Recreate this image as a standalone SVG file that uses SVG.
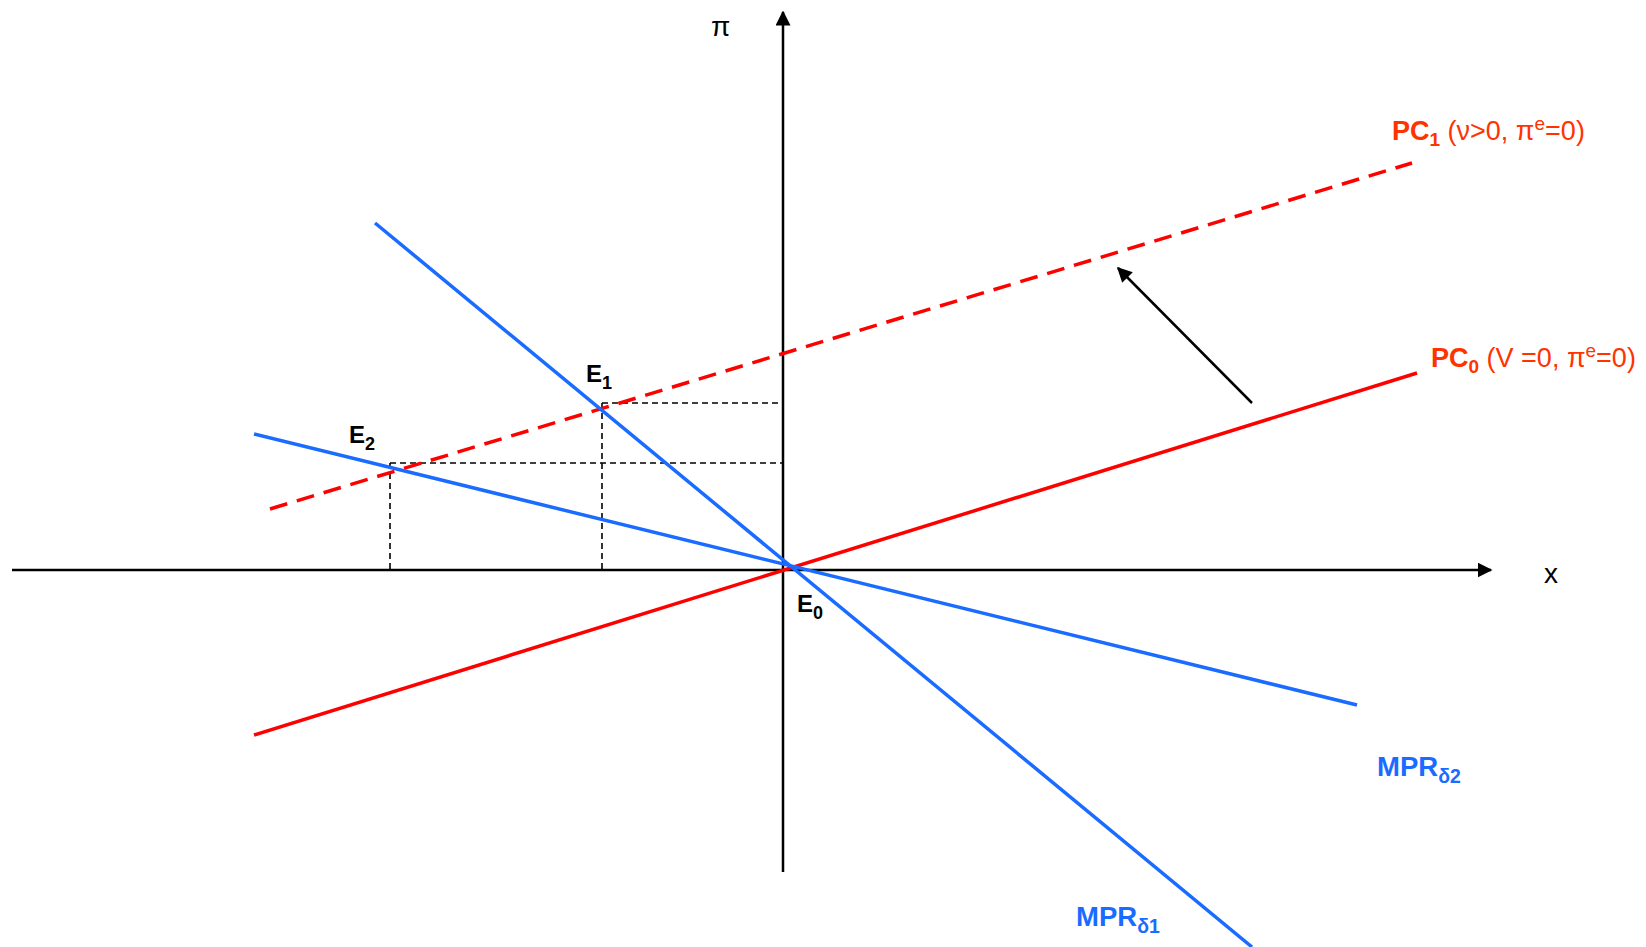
<svg xmlns="http://www.w3.org/2000/svg" width="1646" height="947" viewBox="0 0 1646 947">
<style>
.lbl{font-family:"Liberation Sans",Arial,sans-serif;}
.pc{fill:#FF3300;font-size:27px;}
.mpr{fill:#1A6BFF;font-size:27.5px;font-weight:bold;}
.e{fill:#000;font-size:24px;font-weight:bold;}
.ax{fill:#000;font-size:28px;}
.red{stroke:#FF0000;stroke-width:3.5;fill:none;}
.blue{stroke:#1A6BFF;stroke-width:3.5;fill:none;}
.guide{stroke:#000;stroke-width:1.6;stroke-dasharray:6 4;fill:none;}
.axis{stroke:#000;stroke-width:2.5;fill:none;}
</style>
<defs>
<marker id="ah" viewBox="0 0 10 10" refX="9" refY="5" markerWidth="6" markerHeight="6" markerUnits="strokeWidth" orient="auto">
<path d="M0,0 L10,5 L0,10 Z" fill="#000"/>
</marker>
</defs>
<rect width="1646" height="947" fill="#fff"/>
<g id="connectors">
<line id="axis-x" class="axis" x1="12" y1="570" x2="1491" y2="570" marker-end="url(#ah)"/>
<line id="axis-y" class="axis" x1="783" y1="872" x2="783" y2="12" marker-end="url(#ah)"/>
<line id="guide-e1-h" class="guide" x1="602" y1="403" x2="782" y2="403"/>
<line id="guide-e1-v" class="guide" x1="602" y1="403" x2="602" y2="570"/>
<line id="guide-e2-h" class="guide" x1="390" y1="463" x2="782" y2="463"/>
<line id="guide-e2-v" class="guide" x1="390" y1="463" x2="390" y2="570"/>
<line id="pc0" class="red" x1="254" y1="735" x2="1417" y2="373"/>
<line id="pc1" class="red" x1="270" y1="509" x2="1412" y2="163" stroke-width="4.5" stroke-dasharray="18 10"/>
<line id="mpr1" class="blue" x1="375" y1="223" x2="1252" y2="947"/>
<line id="mpr2" class="blue" x1="254" y1="434" x2="1357" y2="705"/>
<line id="shift" class="axis" x1="1252" y1="403" x2="1118" y2="268" marker-end="url(#ah)"/>
</g>
<g id="label-pi"><text class="lbl ax" x="711" y="36">π</text></g>
<g id="label-x"><text class="lbl ax" x="1544" y="583">x</text></g>
<g id="label-pc1"><text class="lbl pc" x="1392" y="140"><tspan font-weight="bold">PC</tspan><tspan font-weight="bold" font-size="19" dy="6">1</tspan><tspan dy="-6"> (ν&gt;0, π</tspan><tspan font-size="19" dy="-10">e</tspan><tspan dy="10">=0)</tspan></text></g>
<g id="label-pc0"><text class="lbl pc" x="1431" y="367"><tspan font-weight="bold">PC</tspan><tspan font-weight="bold" font-size="19" dy="6">0</tspan><tspan dy="-6"> (V =0, π</tspan><tspan font-size="19" dy="-10">e</tspan><tspan dy="10">=0)</tspan></text></g>
<g id="label-mpr2"><text class="lbl mpr" x="1377" y="776">MPR<tspan font-size="19.5" dy="7">δ2</tspan></text></g>
<g id="label-mpr1"><text class="lbl mpr" x="1076" y="926">MPR<tspan font-size="19.5" dy="7">δ1</tspan></text></g>
<g id="label-e1"><text class="lbl e" x="586" y="382">E<tspan font-size="18" dy="7">1</tspan></text></g>
<g id="label-e2"><text class="lbl e" x="349" y="443">E<tspan font-size="18" dy="7">2</tspan></text></g>
<g id="label-e0"><text class="lbl e" x="797" y="612">E<tspan font-size="18" dy="7">0</tspan></text></g>
</svg>
